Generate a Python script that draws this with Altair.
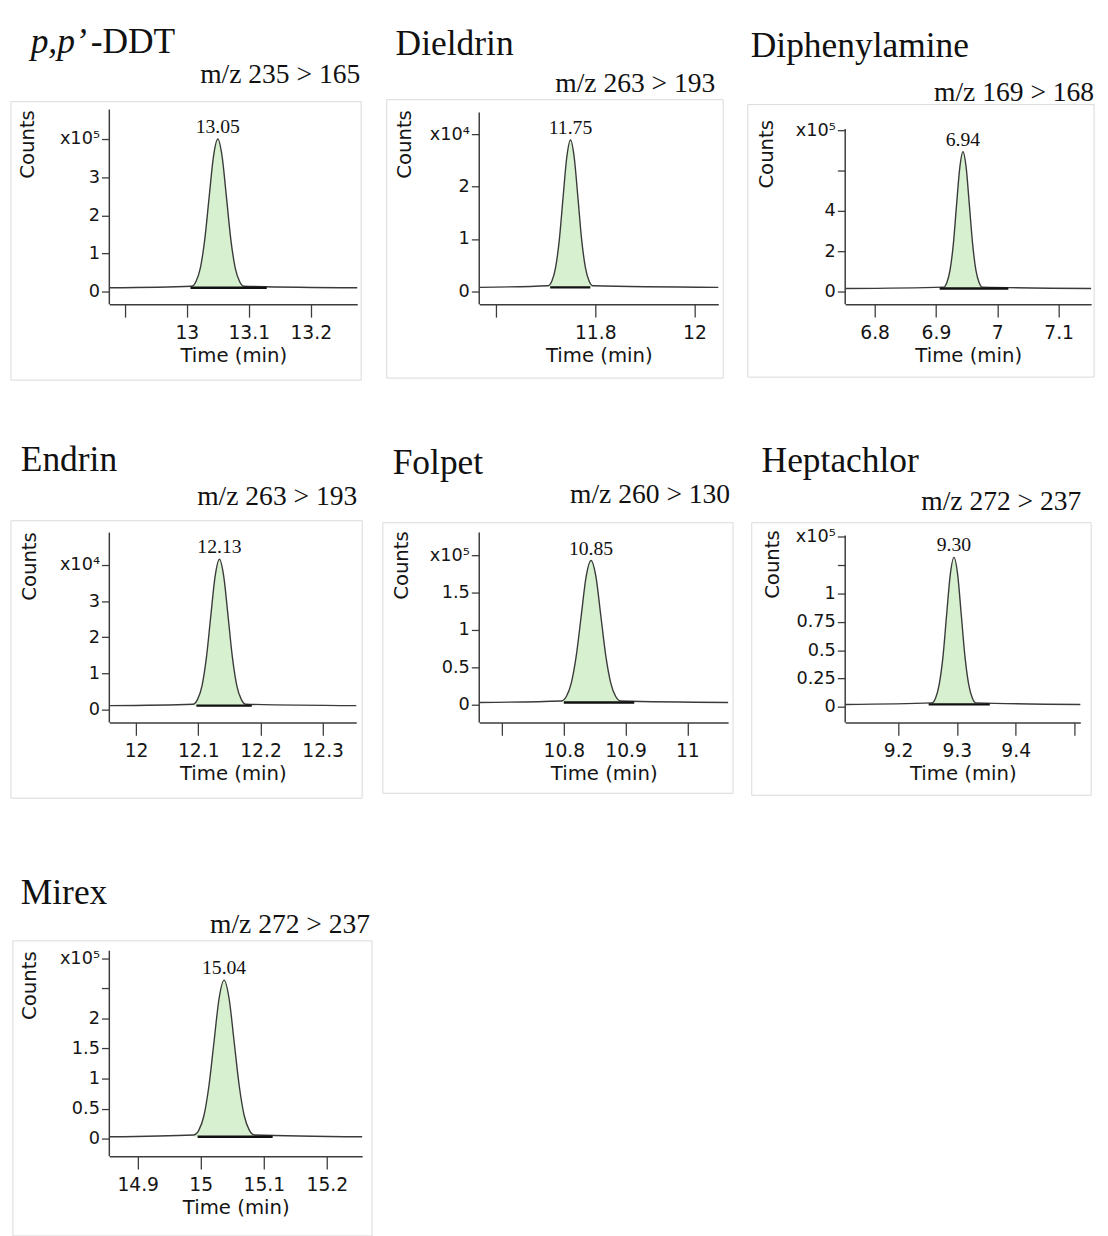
import altair as alt
import pandas as pd

# ---------------- data ----------------
names = ["p,p’-DDT", "Dieldrin", "Diphenylamine", "Endrin", "Folpet", "Heptachlor", "Mirex"]
transitions = ["m/z 235 > 165", "m/z 263 > 193", "m/z 169 > 168", "m/z 263 > 193",
               "m/z 260 > 130", "m/z 272 > 237", "m/z 272 > 237"]
peak_labels = ["13.05", "11.75", "6.94", "12.13", "10.85", "9.30", "15.04"]

time_ranges = [[12.875, 13.275], [11.566, 12.048], [6.752, 7.153], [11.957, 12.354],
               [10.663, 11.066], [9.110, 9.510], [14.855, 15.256]]
count_ranges = [[-0.335, 4.774], [-0.244, 3.47], [-0.634, 9.02], [-0.354, 4.898],
                [-0.237, 2.303], [-0.139, 1.539], [-0.295, 3.131]]
axis_tops = [4.774, 3.415, 8.05, 4.898, 2.303, 1.513, 3.131]
baselines = [0.10, 0.08, 0.15, 0.11, 0.03, 0.02, 0.03]
integration_starts = [13.006, 11.709, 6.906, 12.097, 10.800, 9.252, 14.995]
integration_ends = [13.129, 11.790, 7.018, 12.186, 10.914, 9.356, 15.114]

peak_times = [
    [13.008, 13.015, 13.022, 13.029, 13.036, 13.043, 13.050, 13.057, 13.064, 13.071, 13.078, 13.085, 13.092],
    [11.705, 11.7125, 11.720, 11.7275, 11.735, 11.7425, 11.750, 11.7575, 11.765, 11.7725, 11.780, 11.7875, 11.795],
    [6.9125, 6.9178, 6.923, 6.9283, 6.9335, 6.9388, 6.944, 6.9493, 6.9545, 6.9598, 6.965, 6.9703, 6.9755],
    [12.092, 12.099, 12.106, 12.113, 12.120, 12.127, 12.134, 12.141, 12.148, 12.155, 12.162, 12.169, 12.176],
    [10.796, 10.804, 10.812, 10.820, 10.828, 10.836, 10.844, 10.852, 10.860, 10.868, 10.876, 10.884, 10.892],
    [9.2575, 9.2638, 9.270, 9.2763, 9.2825, 9.2888, 9.295, 9.3013, 9.3075, 9.3138, 9.320, 9.3263, 9.3325],
    [14.989, 14.997, 15.005, 15.013, 15.021, 15.029, 15.037, 15.045, 15.053, 15.061, 15.069, 15.077, 15.085],
]
peak_counts = [
    [0.14, 0.27, 0.63, 1.37, 2.47, 3.54, 4.00, 3.54, 2.47, 1.37, 0.63, 0.27, 0.14],
    [0.11, 0.20, 0.46, 0.99, 1.79, 2.56, 2.89, 2.56, 1.79, 0.99, 0.46, 0.20, 0.11],
    [0.22, 0.45, 1.07, 2.35, 4.27, 6.13, 6.93, 6.13, 4.27, 2.35, 1.07, 0.45, 0.22],
    [0.15, 0.29, 0.66, 1.43, 2.57, 3.68, 4.16, 3.68, 2.57, 1.43, 0.66, 0.29, 0.15],
    [0.05, 0.11, 0.29, 0.65, 1.18, 1.71, 1.93, 1.71, 1.18, 0.65, 0.29, 0.11, 0.05],
    [0.034, 0.077, 0.20, 0.44, 0.81, 1.17, 1.32, 1.17, 0.81, 0.44, 0.20, 0.077, 0.034],
    [0.06, 0.14, 0.38, 0.88, 1.61, 2.33, 2.64, 2.33, 1.61, 0.88, 0.38, 0.14, 0.06],
]

x_ticks = [[12.9, 13.0, 13.1, 13.2], [11.6, 11.8, 12.0], [6.8, 6.9, 7.0, 7.1],
           [12.0, 12.1, 12.2, 12.3], [10.7, 10.8, 10.9, 11.0], [9.2, 9.3, 9.4, 9.5],
           [14.9, 15.0, 15.1, 15.2]]
x_tick_labels = [["", "13", "13.1", "13.2"], ["", "11.8", "12"], ["6.8", "6.9", "7", "7.1"],
                 ["12", "12.1", "12.2", "12.3"], ["", "10.8", "10.9", "11"], ["9.2", "9.3", "9.4", ""],
                 ["14.9", "15", "15.1", "15.2"]]
y_ticks = [[0, 1, 2, 3, 4], [0, 1, 2, 3], [0, 2, 4, 6, 8], [0, 1, 2, 3, 4],
           [0, 0.5, 1, 1.5, 2], [0, 0.25, 0.5, 0.75, 1, 1.25, 1.5], [0, 0.5, 1, 1.5, 2, 2.5, 3]]
y_tick_labels = [["0", "1", "2", "3", "x10⁵"], ["0", "1", "2", "x10⁴"], ["0", "2", "4", "", "x10⁵"],
                 ["0", "1", "2", "3", "x10⁴"], ["0", "0.5", "1", "1.5", "x10⁵"],
                 ["0", "0.25", "0.5", "0.75", "1", "", "x10⁵"], ["0", "0.5", "1", "1.5", "2", "", "x10⁵"]]

# ---------------- layout / style (pixels) ----------------
widths = [252, 243, 250, 251, 253, 239, 257]
heights = [198, 198, 198, 193, 193, 193, 209]
name_pos = [(-80, -57), (-85, -55), (-96, -53), (-90, -63), (-88, -60), (-85, -62), (-90, -47)]
mz_pos = [(255, -27), (240, -18), (253, -9), (252, -28), (255, -30), (240, -23), (265, -18)]
counts_pos = [(-83, 35), (-76, 35), (-80, 45), (-81, 34), (-79, 33), (-74, 32), (-81, 35)]
frames = [(-100, 256, -8, 275), (-94, 248, -10, 273), (-99, 253, -5, 272), (-100, 257, -12, 270),
          (-98, 258, -10, 265), (-95, 250, -10, 267), (-98, 267, -10, 290)]

SANS = "DejaVu Sans"
SERIF = "Liberation Serif"
AX = "#3c3c3c"
TXT = "#151515"


def lab_expr(vals, labels):
    expr = "''"
    for v, l in reversed(list(zip(vals, labels))):
        expr = f"(abs(datum.value - ({v})) < 1e-6 ? '{l}' : {expr})"
    return expr


def panel(i):
    x0, x1 = time_ranges[i]
    ylo, yhi = count_ranges[i]
    b = baselines[i]
    W, H = widths[i], heights[i]
    xs = alt.Scale(domain=[x0, x1], nice=False, zero=False)
    ys = alt.Scale(domain=[ylo, yhi], nice=False, zero=False)
    pt, pv = peak_times[i], peak_counts[i]
    k = pv.index(max(pv))

    xaxis = alt.Axis(values=x_ticks[i], labelExpr=lab_expr(x_ticks[i], x_tick_labels[i]),
                     title="Time (min)", grid=False, domain=True, domainColor=AX, domainWidth=1.5,
                     ticks=True, tickSize=13, tickColor=AX, tickWidth=1.3,
                     labelFont=SANS, labelFontSize=19, labelColor=TXT, labelPadding=7,
                     labelFlush=False, labelOverlap=False,
                     titleFont=SANS, titleFontSize=20, titleFontWeight="normal", titleColor=TXT,
                     titlePadding=3)
    yaxis = alt.Axis(values=y_ticks[i], labelExpr=lab_expr(y_ticks[i], y_tick_labels[i]),
                     title="Counts", grid=False, domain=False, ticks=True, tickSize=8,
                     tickColor=AX, tickWidth=1.3, labelFont=SANS, labelFontSize=18,
                     labelColor=TXT, labelPadding=2, labelOverlap=False, labelFlush=False,
                     titleFont=SANS, titleFontSize=20, titleFontWeight="normal", titleColor=TXT,
                     titleAngle=270, titleAlign="center", titleBaseline="middle",
                     titleX=counts_pos[i][0], titleY=counts_pos[i][1])

    peak_df = pd.DataFrame({"t": pt, "v": pv, "b": [b] * len(pt)})
    trace_df = pd.DataFrame({"t": [x0] + pt + [x1], "v": [b] + pv + [b]})
    integ_df = pd.DataFrame({"t": [integration_starts[i]], "t2": [integration_ends[i]], "v": [b]})
    yline_df = pd.DataFrame({"t": [x0], "v": [ylo], "v2": [axis_tops[i]]})
    label_df = pd.DataFrame({"t": [pt[k]], "v": [pv[k]], "label": [peak_labels[i]]})
    head_df = pd.DataFrame({"name": [names[i]], "mz": [transitions[i]]})

    X = alt.X("t:Q", scale=xs, axis=xaxis)
    Y = alt.Y("v:Q", scale=ys, axis=yaxis)

    fx, fx2, fy, fy2 = frames[i]
    frame = alt.Chart(head_df).mark_rect(fillOpacity=0, stroke="#d9d9d9", strokeWidth=1).encode(
        x=alt.value(fx), x2=alt.value(fx2), y=alt.value(fy), y2=alt.value(fy2))

    area = alt.Chart(peak_df).mark_area(interpolate="monotone", color="#d7f0cf", opacity=1).encode(
        x=X, y=Y, y2="b:Q")
    line = alt.Chart(trace_df).mark_line(interpolate="monotone", color="#3a3a3a", strokeWidth=1.4).encode(
        x=X, y=Y)
    integ = alt.Chart(integ_df).mark_rule(color="#111", strokeWidth=2.4).encode(
        x=X, x2="t2:Q", y=Y)
    yline = alt.Chart(yline_df).mark_rule(color=AX, strokeWidth=1.5).encode(
        x=X, y=Y, y2="v2:Q")
    ptxt = alt.Chart(label_df).mark_text(font=SERIF, fontSize=20, color="#111", dy=-6,
                                         baseline="alphabetic", align="center").encode(
        x=X, y=Y, text="label:N")

    nx, ny = name_pos[i]
    layers = [area, line, integ, yline, ptxt, frame]
    nm = names[i]
    if nm.startswith("p,p’"):
        it_df = pd.DataFrame({"s": [nm[:4]]})
        ro_df = pd.DataFrame({"s": [nm[4:]]})
        layers.append(alt.Chart(it_df).mark_text(font=SERIF, fontSize=36, fontStyle="italic", color="#111",
                                                 align="left", baseline="alphabetic").encode(
            x=alt.value(nx), y=alt.value(ny), text="s:N"))
        layers.append(alt.Chart(ro_df).mark_text(font=SERIF, fontSize=36, color="#111",
                                                 align="left", baseline="alphabetic").encode(
            x=alt.value(nx + 61), y=alt.value(ny), text="s:N"))
    else:
        layers.append(alt.Chart(head_df).mark_text(font=SERIF, fontSize=36, color="#111",
                                                   align="left", baseline="alphabetic").encode(
            x=alt.value(nx), y=alt.value(ny), text="name:N"))
    mx, my = mz_pos[i]
    layers.append(alt.Chart(head_df).mark_text(font=SERIF, fontSize=28, color="#111",
                                               align="right", baseline="alphabetic").encode(
        x=alt.value(mx), y=alt.value(my), text="mz:N"))

    return alt.layer(*layers).properties(width=W, height=H)


chart = alt.concat(*[panel(i) for i in range(len(names))], columns=3,
                   spacing={"row": 232, "column": 119}, bounds="flush", align="each").properties(
    padding={"left": 2, "top": 7, "right": 5, "bottom": 0},
    background="white",
).configure_view(stroke=None)

chart.save("out.html", embed_options={"renderer": "svg", "actions": False})
